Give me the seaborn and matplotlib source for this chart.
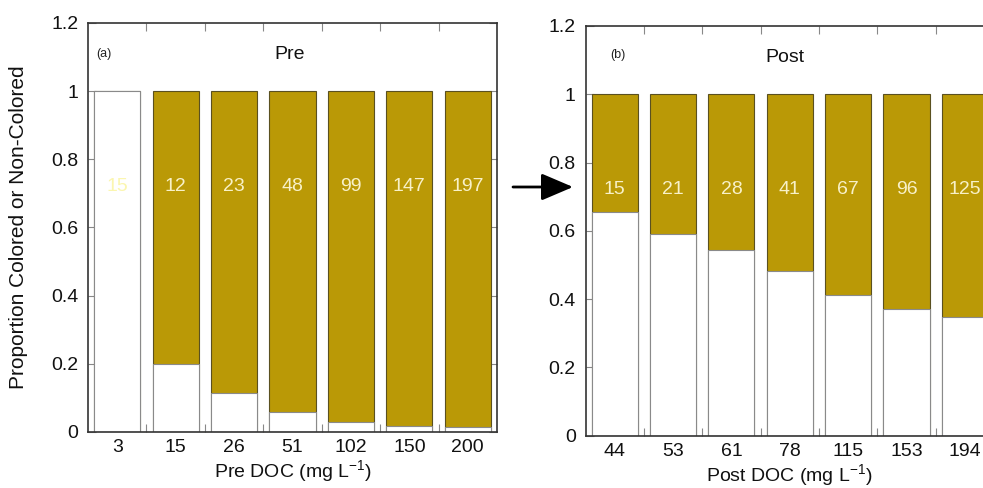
import matplotlib
matplotlib.use("Agg")
import matplotlib.pyplot as plt
import seaborn as sns
import numpy as np
import pandas as pd
from matplotlib.ticker import FuncFormatter, FixedLocator

sns.set_style("white")
plt.rcParams['font.family'] = ['Liberation Sans', 'DejaVu Sans']
plt.rcParams['mathtext.fontset'] = 'custom'
plt.rcParams['mathtext.rm'] = 'Liberation Sans'

# ---- data ----
pre_doc = ["3", "15", "26", "51", "102", "150", "200"]
pre_noncolored = [1.0, 0.200, 0.113, 0.058, 0.028, 0.019, 0.014]
pre_n = [15, 12, 23, 48, 99, 147, 197]

post_doc = ["44", "53", "61", "78", "115", "153", "194"]
post_noncolored = [0.656, 0.590, 0.545, 0.482, 0.411, 0.372, 0.349]
post_n = [15, 21, 28, 41, 67, 96, 125]

total = 1.0
GOLD = "#BA9906"
W, H = 983, 488
fig = plt.figure(figsize=(W / 100, H / 100), dpi=100)

def px_axes(l, t, r, b):
    return fig.add_axes([l / W, 1 - b / H, (r - l) / W, (b - t) / H])

axL = px_axes(88, 23, 497, 432)
axR = px_axes(585.5, 26, 994, 435.7)

FS = 14

def draw(ax, cats, noncol, ns, panel, ppos, title, tpos, xlabel, ylabel):
    df = pd.DataFrame({"doc": cats, "total": [total] * len(cats), "non": noncol})
    sns.barplot(data=df, x="doc", y="total", order=cats, color=GOLD, width=0.79,
                edgecolor="#5a5020", linewidth=0.8, saturation=1, ax=ax, zorder=2)
    sns.barplot(data=df, x="doc", y="non", order=cats, color="white", width=0.79,
                edgecolor="#8a8a8a", linewidth=0.8, saturation=1, ax=ax, zorder=3)
    for i, (n, v) in enumerate(zip(ns, noncol)):
        col = "#FBF6B0" if v >= 0.99 else "#F8F1C8"
        ax.text(i, 0.72, str(n), ha="center", va="center", fontsize=FS,
                color=col, zorder=5)
    ax.set_xlim(-0.5, len(cats) - 0.5)
    ax.set_ylim(0, 1.2)
    ax.yaxis.set_major_locator(FixedLocator([0, 0.2, 0.4, 0.6, 0.8, 1.0, 1.2]))
    ax.yaxis.set_major_formatter(FuncFormatter(lambda v, p: f"{v:g}"))
    ax.set_xticks(range(len(cats)))
    ax.set_xticklabels(cats)
    ax.set_xticks(np.arange(0.5, len(cats) - 0.5, 1.0), minor=True)
    ax.tick_params(axis="x", which="major", length=0, labelsize=FS, pad=5, colors="#111111")
    ax.tick_params(axis="x", which="minor", direction="in", length=6, top=True,
                   bottom=True, color="#888888", width=0.8)
    ax.tick_params(axis="y", which="major", direction="in", length=6, left=True,
                   right=True, labelsize=FS, color="#888888", width=0.8, pad=7,
                   labelcolor="#111111")
    for s in ax.spines.values():
        s.set_color("#333333")
        s.set_linewidth(1.2)
        s.set_visible(True)
        s.set_zorder(10)
    ax.set_xlabel(xlabel, fontsize=FS, labelpad=2, color="#111111")
    ax.set_ylabel(ylabel, fontsize=15, color="#111111")
    ax.yaxis.set_label_coords(-(88 - 28) / 409, 0.5)
    ax.text(ppos[0], ppos[1], panel, transform=ax.transAxes, fontsize=9,
            ha="left", va="center", color="#222222")
    ax.text(tpos[0], tpos[1], title, transform=ax.transAxes, fontsize=FS,
            ha="center", va="center", color="#111111")

draw(axL, pre_doc, pre_noncolored, pre_n, "(a)", (0.02, 0.925), "Pre", (0.494, 0.923),
     "Pre DOC (mg L$^{\\mathregular{-1}}$)", "Proportion Colored or Non-Colored")
draw(axR, post_doc, post_noncolored, post_n, "(b)", (0.06, 0.929), "Post", (0.489, 0.922),
     "Post DOC (mg L$^{\\mathregular{-1}}$)", "")

fig.add_artist(matplotlib.patches.FancyArrowPatch(
    (513 / W, 1 - 187 / H), (573 / W, 1 - 187 / H), transform=fig.transFigure,
    arrowstyle="-|>,head_length=0.75,head_width=0.32", mutation_scale=26, lw=2,
    color="black", shrinkA=0, shrinkB=0))

fig.savefig("out.png", dpi=100)
